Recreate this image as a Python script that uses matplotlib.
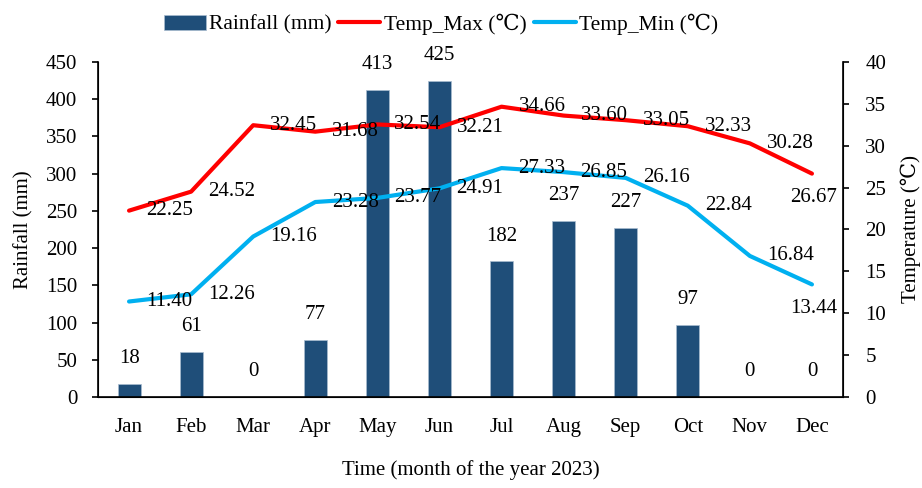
import numpy as np
import matplotlib
matplotlib.use('Agg')
import matplotlib.pyplot as plt

plt.rcParams['font.family'] = ['Liberation Serif', 'DejaVu Serif']
plt.rcParams['font.size'] = 15

# Datos
months = ['Jan', 'Feb', 'Mar', 'Apr', 'May', 'Jun', 'Jul', 'Aug', 'Sep', 'Oct', 'Nov', 'Dec']
rainfall = [18, 61, 0, 77, 413, 425, 182, 237, 227, 97, 0, 0]
temp_max = [22.25, 24.52, 32.45, 31.68, 32.54, 32.21, 34.66, 33.60, 33.05, 32.33, 30.28, 26.67]
temp_min = [11.40, 12.26, 19.16, 23.28, 23.77, 24.91, 27.33, 26.85, 26.16, 22.84, 16.84, 13.44]

x = np.arange(len(months))

fig = plt.figure(figsize=(9.22, 4.88), dpi=100)
ax = fig.add_axes([0.1063, 0.1865, 0.8080, 0.6865])
ax2 = ax.twinx()

bars = ax.bar(x, rainfall, width=0.37, color='#1F4E79', edgecolor='#A9BCD0', linewidth=0.5,
              label='Rainfall (mm)', zorder=1)
for xi, v in zip(x, rainfall):
    ax.annotate(str(v), (xi, v), xytext=(0, 25), textcoords='offset pixels',
                ha='center', va='center')

l1, = ax2.plot(x, temp_max, color='#FF0000', lw=3, label='Temp_Max (℃)', solid_capstyle='round')
l2, = ax2.plot(x, temp_min, color='#00B0F0', lw=3, label='Temp_Min (℃)', solid_capstyle='round')
for serie in (temp_max, temp_min):
    for xi, v in zip(x, serie):
        if xi == len(x) - 1:
            # el ultimo punto lleva la etiqueta debajo
            ax2.annotate(f'{v:.2f}', (xi, v), xytext=(2, -24), textcoords='offset pixels',
                         ha='center', va='center')
        else:
            ax2.annotate(f'{v:.2f}', (xi, v), xytext=(17, 0), textcoords='offset pixels',
                         ha='left', va='center')

ax.set_xlim(-0.5, 11.5)
ax.set_ylim(0, 450)
ax.set_yticks(np.arange(0, 451, 50))
ax2.set_ylim(0, 40)
ax2.set_yticks(np.arange(0, 41, 5))
ax.set_xticks(x)
ax.set_xticklabels(months)
ax.tick_params(axis='x', length=0, pad=15)
ax.tick_params(axis='y', length=4, width=1.2, pad=11)
ax2.tick_params(axis='y', length=4, width=1.2, pad=12)

ax.spines['top'].set_visible(False)
ax2.spines['top'].set_visible(False)
for s in ('left', 'bottom'):
    ax.spines[s].set_linewidth(1.2)
ax2.spines['right'].set_linewidth(1.2)

ax.set_ylabel('Rainfall (mm)', labelpad=9)
ax2.set_ylabel('Temperature (℃)', labelpad=10)
ax.set_xlabel('Time (month of the year 2023)', labelpad=17)

fig.legend(handles=[bars, l1, l2], loc='upper center', bbox_to_anchor=(0.478, 1.012),
           ncol=3, frameon=False, fontsize=15.5, handlelength=1.95, handletextpad=0.15,
           columnspacing=0.33)

plt.savefig('out.png', dpi=100)
plt.close()
